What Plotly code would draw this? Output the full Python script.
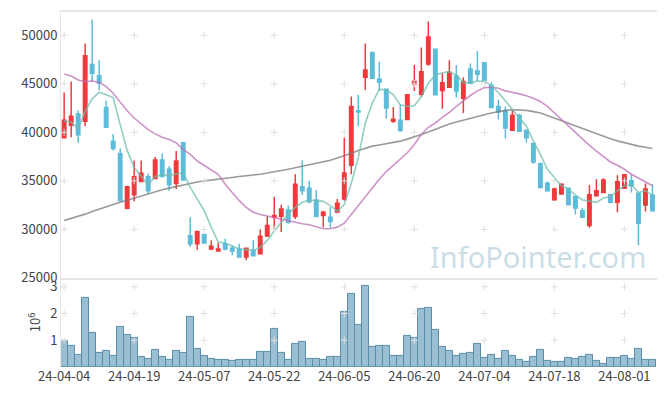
import plotly.graph_objects as go
from plotly.subplots import make_subplots

dates = [
    "24-04-04", "24-04-05", "24-04-08", "24-04-09", "24-04-11", "24-04-12", "24-04-15", "24-04-16",
    "24-04-17", "24-04-18", "24-04-19", "24-04-22", "24-04-23", "24-04-24", "24-04-25", "24-04-26",
    "24-04-29", "24-04-30", "24-05-02", "24-05-03", "24-05-07", "24-05-08", "24-05-09", "24-05-10",
    "24-05-13", "24-05-14", "24-05-16", "24-05-17", "24-05-20", "24-05-21", "24-05-22", "24-05-23",
    "24-05-24", "24-05-27", "24-05-28", "24-05-29", "24-05-30", "24-05-31", "24-06-03", "24-06-04",
    "24-06-05", "24-06-07", "24-06-10", "24-06-11", "24-06-12", "24-06-13", "24-06-14", "24-06-17",
    "24-06-18", "24-06-19", "24-06-20", "24-06-21", "24-06-24", "24-06-25", "24-06-26", "24-06-27",
    "24-06-28", "24-07-01", "24-07-02", "24-07-03", "24-07-04", "24-07-05", "24-07-08", "24-07-09",
    "24-07-10", "24-07-11", "24-07-12", "24-07-15", "24-07-16", "24-07-17", "24-07-18", "24-07-19",
    "24-07-22", "24-07-23", "24-07-24", "24-07-25", "24-07-26", "24-07-29", "24-07-30", "24-07-31",
    "24-08-01", "24-08-02", "24-08-05", "24-08-06", "24-08-07",
]

open_ = [39450, 40730, 41890, 41140, 47000, 45840, 42570, 39090, 37830, 32170, 33570, 34930, 35410, 35240, 37150, 36190,
         34730, 38920, 29340, 28530, 29480, 27980, 27780, 28530, 28050, 27980, 27160, 27840, 27500, 29310, 31250, 31360,
         32000, 31320, 34390, 34250, 33030, 31420, 31250, 31800, 33130, 36600, 42230, 45670, 48190, 45500, 44440, 41140,
         41240, 41310, 44990, 43930, 47030, 48570, 44310, 44650, 45810, 43520, 46520, 46320, 47170, 44820, 42670, 42230,
         40220, 41750, 40220, 38850, 36770, 34760, 33060, 33640, 34250, 33370, 31930, 30400, 33470, 33810, 33570, 32790,
         34250, 35000, 33710, 32510, 33540]
close = [41250, 41650, 39740, 47880, 46080, 45060, 40520, 38340, 32960, 34390, 35410, 35790, 33980, 37150, 35440, 34590,
         37050, 35100, 28490, 29790, 28590, 28250, 27980, 27980, 27780, 27160, 28050, 27270, 29280, 30400, 31420, 32110,
         30740, 34660, 33980, 32850, 31320, 31760, 30810, 32680, 35820, 42670, 42090, 46420, 45570, 45160, 42500, 41340,
         40180, 43860, 45230, 46250, 49830, 43860, 45120, 46180, 44270, 45230, 45060, 45980, 45330, 42570, 42090, 40450,
         41750, 40110, 39430, 36940, 34320, 33980, 34150, 34660, 32550, 32210, 31250, 33570, 33980, 35100, 32790, 34900,
         35620, 34490, 30640, 34150, 31930]
high = [44100, 45230, 42260, 49150, 51630, 47440, 43250, 39840, 38340, 34490, 37110, 37110, 35750, 37460, 37830, 36540,
        38070, 38990, 31250, 29790, 29500, 28870, 28590, 29040, 28360, 28530, 28120, 28940, 29990, 31360, 33370, 32550,
        32450, 35680, 37110, 35000, 34050, 31930, 32280, 33130, 39430, 43690, 43860, 49150, 48360, 47270, 44440, 42600,
        42840, 43860, 46930, 48740, 51430, 48630, 46080, 47440, 46930, 45670, 47100, 48360, 47170, 45160, 43350, 42670,
        42330, 41890, 40280, 38920, 36880, 34930, 34320, 34760, 34320, 33470, 32210, 34560, 35170, 35270, 33640, 35580,
        35680, 35620, 33810, 34730, 34660]
low = [39360, 39500, 38920, 40630, 45230, 44370, 40490, 38140, 32890, 32070, 32890, 34900, 33640, 35170, 35340, 33980,
       34150, 35000, 28190, 27910, 28530, 27840, 27710, 27840, 27330, 27090, 26820, 27230, 27440, 29210, 29960, 29720,
       30570, 31080, 33540, 32680, 31250, 30230, 30160, 31660, 32960, 35680, 40620, 44370, 45500, 44270, 41410, 40970,
       40050, 41240, 44270, 43690, 46860, 43790, 42430, 44610, 43590, 41990, 44950, 45290, 45230, 42500, 41310, 39360,
       40180, 40050, 38920, 36770, 34220, 33880, 32960, 33570, 32450, 31530, 31180, 30160, 33400, 33710, 32680, 31760,
       34150, 33810, 28360, 31830, 31830]

ma5 = [41200, 41030, 40386, 42158, 43453, 44135, 43862, 43590, 40795, 38136, 36364, 35444, 34592, 35444, 35615, 35547,
       35683, 35854, 34319, 33127, 31934, 30230, 28696, 28594, 28253, 27980, 27912, 27844, 28117, 28867, 29821, 30741,
       31594, 32275, 32786, 33025, 32957, 32888, 32445, 31866, 32548, 34750, 37387, 40965, 43010, 44441, 44373, 43862,
       42840, 42669, 42737, 43692, 45055, 45907, 46145, 46247, 45907, 45123, 45055, 45293, 45225, 44816, 44100, 43248,
       42329, 41544, 40624, 39091, 37728, 36194, 35342, 34490, 34149, 33536, 33025, 32888, 32786, 33229, 33366, 33979,
       34490, 34592, 33809, 33979, 33536]
ma20 = [46009, 45805, 45396, 45225, 45293, 45157, 44714, 44032, 43112, 42226, 41476, 40897, 40283, 39840, 39500, 39261,
        38920, 38239, 37728, 37046, 36600, 36194, 35683, 34660, 33809, 32957, 32275, 31764, 31525, 31355, 31184, 31014,
        30843, 30707, 30571, 30469, 30298, 30060, 30060, 30230, 30639, 31560, 32445, 33298, 34319, 35172, 35956, 36637,
        37216, 37898, 38750, 39772, 40522, 40965, 41544, 42056, 42669, 43248, 43794, 44271, 44612, 44646, 44543, 44271,
        44135, 43964, 43760, 43521, 43180, 42669, 41988, 41306, 40624, 39943, 39261, 38648, 38068, 37489, 36944, 36603,
        36194, 35683, 35274, 34933, 34490]
ma60 = [30912, 31110, 31321, 31570, 31832, 32090, 32343, 32570, 32786, 33010, 33229, 33470, 33706, 33900, 34081, 34250,
        34422, 34590, 34762, 34880, 35001, 35070, 35160, 35250, 35342, 35440, 35547, 35610, 35683, 35800, 35922, 36060,
        36194, 36360, 36535, 36670, 36808, 36960, 37114, 37350, 37580, 37850, 38136, 38360, 38579, 38700, 38818, 38950,
        39091, 39300, 39500, 39770, 40045, 40330, 40624, 40850, 41067, 41270, 41476, 41650, 41817, 41990, 42158, 42260,
        42329, 42300, 42260, 42130, 41988, 41740, 41476, 41190, 40897, 40620, 40352, 40100, 39840, 39590, 39329, 39120,
        38920, 38750, 38579, 38460, 38341]

volume = [990000, 800000, 470000, 2600000, 1270000, 510000, 620000, 430000, 1490000, 1210000, 1090000, 380000,
          320000, 650000, 360000, 250000, 620000, 510000, 1860000, 690000, 430000, 320000, 250000, 280000, 210000,
          250000, 250000, 280000, 580000, 580000, 1420000, 510000, 250000, 880000, 950000, 320000, 320000, 280000,
          390000, 360000, 2050000, 2720000, 1580000, 3020000, 750000, 790000, 790000, 420000, 420000, 1160000,
          1090000, 2160000, 2200000, 1380000, 750000, 600000, 420000, 490000, 530000, 860000, 350000, 460000,
          310000, 600000, 420000, 270000, 200000, 380000, 640000, 230000, 200000, 200000, 350000, 310000, 380000,
          460000, 230000, 120000, 350000, 350000, 420000, 310000, 680000, 270000, 270000]

price_ticks = [25000, 30000, 35000, 40000, 45000, 50000]
vol_ticks = [1, 2, 3]
x_ticks = dates[::10]

FONT = "Noto Sans CJK KR"
UP = "#ef3a3d"
DOWN = "#5dbcd9"

fig = make_subplots(rows=2, cols=1, shared_xaxes=True, vertical_spacing=0,
                    row_heights=[0.749, 0.251])

fig.add_trace(go.Scatter(x=dates, y=ma60, mode="lines", line=dict(color="rgba(120,120,120,0.75)", width=1.6),
                         showlegend=False, hoverinfo="skip"), row=1, col=1)
fig.add_trace(go.Scatter(x=dates, y=ma20, mode="lines", line=dict(color="rgba(190,110,180,0.75)", width=1.6),
                         showlegend=False, hoverinfo="skip"), row=1, col=1)
fig.add_trace(go.Scatter(x=dates, y=ma5, mode="lines", line=dict(color="rgba(110,190,175,0.75)", width=1.6),
                         showlegend=False, hoverinfo="skip"), row=1, col=1)

fig.add_trace(go.Candlestick(x=dates, open=open_, high=high, low=low, close=close,
                             increasing=dict(line=dict(color=UP, width=1.5), fillcolor=UP),
                             decreasing=dict(line=dict(color=DOWN, width=1.5), fillcolor=DOWN),
                             whiskerwidth=0, showlegend=False), row=1, col=1)

fig.add_trace(go.Bar(x=dates, y=[v / 1e6 for v in volume], marker=dict(color="rgba(120,170,195,0.75)",
                     line=dict(color="#5a8ea8", width=1)), showlegend=False), row=2, col=1)

# grid crosses at tick intersections
cx, cy = [], []
for xv in x_ticks:
    for yv in price_ticks[1:]:
        cx.append(xv); cy.append(yv)
fig.add_trace(go.Scatter(x=cx, y=cy, mode="markers", hoverinfo="skip", showlegend=False,
                         marker=dict(symbol="cross-thin", size=5, line=dict(color="#e0e0e0", width=1))),
              row=1, col=1)
vx, vy = [], []
for xv in x_ticks:
    for yv in vol_ticks:
        vx.append(xv); vy.append(yv)
fig.add_trace(go.Scatter(x=vx, y=vy, mode="markers", hoverinfo="skip", showlegend=False,
                         marker=dict(symbol="cross-thin", size=5, line=dict(color="#e0e0e0", width=1))),
              row=2, col=1)

# page body has an 8px margin: size the figure to fit the 665x396 window
fig.update_layout(
    width=657, height=388, margin=dict(l=53, r=8, t=2, b=29),
    paper_bgcolor="white", plot_bgcolor="white", bargap=0,
    font=dict(family=FONT, size=13, color="#444"),
    showlegend=False,
)
fig.update_xaxes(type="category", categoryorder="array", categoryarray=dates,
                 range=[-0.45, 84.65], showgrid=False, zeroline=False,
                 tickvals=x_ticks, ticktext=x_ticks, rangeslider_visible=False)
fig.update_xaxes(showticklabels=False, showline=True, linecolor="#e6e6e6", linewidth=2, mirror=True, row=1, col=1)
fig.update_xaxes(showline=False, tickfont=dict(size=13, color="#444"), ticks="", row=2, col=1)
fig.update_yaxes(range=[25000, 52400], tickvals=price_ticks, tickformat="d", showgrid=False, zeroline=False,
                 showline=True, linecolor="#e6e6e6", linewidth=1, mirror=True,
                 tickfont=dict(size=13, color="#444"), row=1, col=1)
fig.update_yaxes(range=[0, 3.33], tickvals=vol_ticks, showgrid=False, zeroline=False,
                 showline=True, linecolor="#e6e6e6", linewidth=1,
                 title=dict(text="10<sup>6</sup>", font=dict(size=13, color="#444"), standoff=6),
                 tickfont=dict(size=13, color="#444"), row=2, col=1)

fig.add_annotation(text="InfoPointer.com", xref="paper", yref="paper", x=0.80, y=0.311,
                   xanchor="center", yanchor="middle",
                   showarrow=False, font=dict(family="Noto Sans", size=29, color="rgba(150,188,208,0.5)"))

fig.write_html("out.html")
